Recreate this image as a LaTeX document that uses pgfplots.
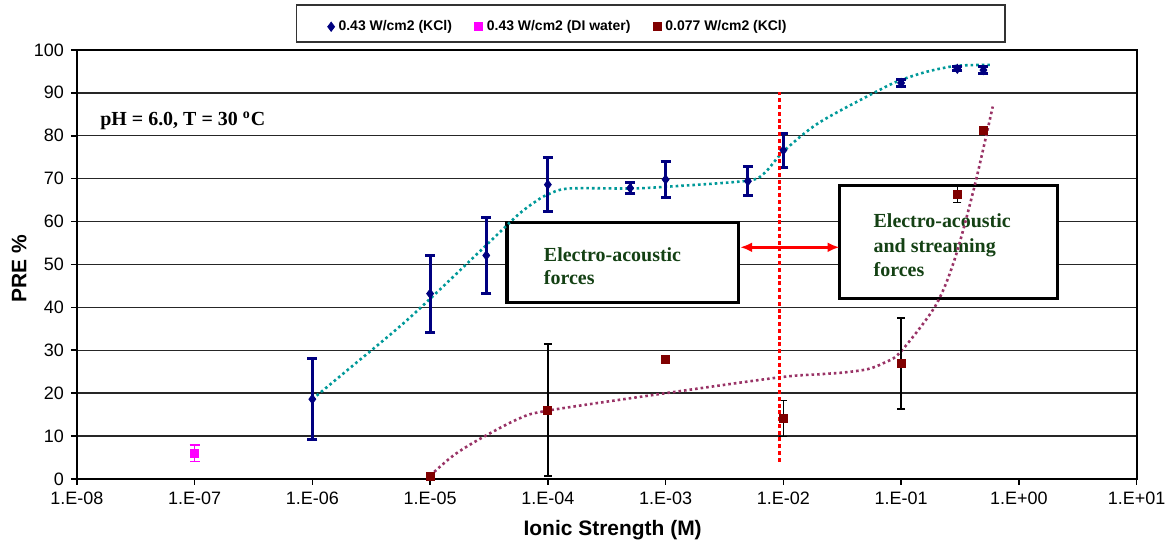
\documentclass[border=0pt]{standalone}
\usepackage{fontspec}
\setmainfont{Liberation Sans}
\newfontfamily\serifbf{Liberation Serif}[BoldFont=Liberation Serif Bold]
\usepackage{pgfplots}
\pgfplotsset{compat=1.18}
\usetikzlibrary{arrows.meta}

\definecolor{kclnavy}{RGB}{0,0,128}
\definecolor{dimag}{RGB}{255,0,255}
\definecolor{lowred}{RGB}{128,0,0}
\definecolor{fitteal}{RGB}{0,153,153}
\definecolor{fitplum}{RGB}{153,51,102}
\definecolor{boxgreen}{RGB}{20,65,20}

\begin{document}
\begin{tikzpicture}
\begin{axis}[
    at={(0,0)}, anchor=south west,
    scale only axis,
    width=531pt, height=215pt,
    xmode=log, xmin=1e-8, xmax=1e1,
    ymin=0, ymax=100,
    xtick={1e-8,1e-7,1e-6,1e-5,1e-4,1e-3,1e-2,1e-1,1,10},
    xticklabels={1.E-08,1.E-07,1.E-06,1.E-05,1.E-04,1.E-03,1.E-02,1.E-01,1.E+00,1.E+01},
    xminorticks=false,
    ytick={0,10,...,100},
    ymajorgrids,
    grid style={black!85, line width=0.7pt},
    axis line style={black, line width=1pt},
    tick align=outside,
    xtick pos=bottom, ytick pos=left,
    major tick length=3pt,
    tick style={black, line width=0.8pt},
    ticklabel style={font=\fontsize{9}{10}\selectfont},
    /pgf/number format/assume math mode=true,
    xlabel={Ionic Strength (M)},
    ylabel={PRE \%},
    xlabel style={font=\bfseries\fontsize{10.5}{12}\selectfont, at={(axis description cs:0.5056,-0.1186)}, anchor=center, inner sep=0pt},
    ylabel style={font=\bfseries\fontsize{10.5}{12}\selectfont, at={(axis description cs:-0.047,0.49)}, anchor=south, inner sep=0pt},
    legend style={draw=none, fill=none, at={(axis description cs:0.2307,1.054)}, anchor=west,
        font=\bfseries\fontsize{7}{8}\selectfont,
        /tikz/every even column/.append style={column sep=9.5pt}},
    legend columns=3,
    legend image code/.code={\draw[mark repeat=2,mark phase=2,#1] plot coordinates {(0pt,0pt) (2pt,0pt) (4pt,0pt)};},
]

% text boxes (under the curves, over the grid)
\draw[line width=1.6pt, fill=white] (axis cs:4.5e-5,41.2) rectangle (axis cs:4.16e-3,59.8);
\draw[line width=1.6pt, fill=white] (axis cs:3.02e-2,42.0) rectangle (axis cs:2.14,68.4);
\node[anchor=base west, align=left, text=boxgreen, font=\serifbf\bfseries\fontsize{10}{11.5}\selectfont, inner sep=0pt]
    at (axis cs:9.2e-5,45.3) {Electro-acoustic\\forces};
\node[anchor=base west, align=left, text=boxgreen, font=\serifbf\bfseries\fontsize{10}{12.2}\selectfont, inner sep=0pt]
    at (axis cs:5.8e-2,47.2) {Electro-acoustic\\and streaming\\forces};
\node[anchor=base west, font=\serifbf\bfseries\fontsize{10}{12}\selectfont, inner sep=0pt]
    at (axis cs:1.57e-8,82.3) {pH = 6.0, T = 30 \textsuperscript{o}C};

% trend lines
\addplot[fitteal, line width=1.3pt, dash pattern=on 1.3pt off 1.5pt, smooth, no marks, forget plot] coordinates {
    (1e-6,18.6) (1.95e-6,25.2) (6.6e-6,37.4) (2.95e-5,54.3) (5.6e-5,61.6) (8.1e-5,64.9)
    (1e-4,66.3) (1.5e-4,67.7) (5e-4,67.7) (1e-3,68.1) (4.9e-3,69.5) (6.9e-3,71.3)
    (1e-2,76.3) (2e-2,83.0) (6.6e-2,90.7) (0.1,93.0) (0.17,95.0) (0.30,96.3) (0.60,96.5)
};
\addplot[fitplum, line width=1.3pt, dash pattern=on 1.3pt off 1.5pt, smooth, no marks, forget plot] coordinates {
    (1e-5,0.8) (1.58e-5,5.5) (2.63e-5,9.3) (5.6e-5,14.0) (9.8e-5,15.9) (1e-3,20.0)
    (9.3e-3,23.7) (2e-2,24.4) (3.2e-2,24.8) (5.2e-2,25.6) (7.2e-2,27.1) (9.8e-2,29.5)
    (0.195,40.3) (0.285,51.2) (0.42,68.2) (0.60,86.8)
};

% 0.43 W/cm2 (KCl)
\addplot[only marks, mark=diamond*, mark size=2.3pt, kclnavy,
    error bars/.cd, y dir=both, y explicit,
    error bar style={line width=1.5pt, kclnavy},
    error mark options={rotate=90, mark size=2.5pt, line width=1.5pt, kclnavy}]
coordinates {
    (1e-6,18.6) +- (0,9.4)
    (1e-5,43.2) +- (0,9.0)
    (3e-5,52.1) +- (0,8.8)
    (1e-4,68.6) +- (0,6.3)
    (5e-4,67.8) +- (0,1.3)
    (1e-3,69.8) +- (0,4.1)
    (5e-3,69.4) +- (0,3.4)
    (1e-2,76.6) +- (0,3.9)
    (0.1,92.3) +- (0,0.8)
    (0.3,95.6) +- (0,0.5)
    (0.5,95.3) +- (0,0.8)
};
\addlegendentry{0.43 W/cm2 (KCl)}

% 0.43 W/cm2 (DI water)
\addplot[only marks, mark=square*, mark size=2pt, dimag,
    error bars/.cd, y dir=both, y explicit,
    error bar style={line width=0.9pt, dimag},
    error mark options={rotate=90, mark size=2.5pt, line width=0.9pt, dimag}]
coordinates {
    (1e-7,6.0) +- (0,1.9)
};
\addlegendentry{0.43 W/cm2 (DI water)}

% 0.077 W/cm2 (KCl)
\addplot[only marks, mark=square*, mark size=2pt, lowred,
    error bars/.cd, y dir=both, y explicit,
    error bar style={line width=0.75pt, black},
    error mark options={rotate=90, mark size=2pt, line width=0.75pt, black}]
coordinates {
    (1e-5,0.6) +- (0,0)
    (1e-4,16.1) +- (0,15.4)
    (1e-3,27.8) +- (0,0.5)
    (1e-2,14.1) +- (0,4.2)
    (0.1,26.9) +- (0,10.6)
    (0.3,66.3) +- (0,1.9)
    (0.5,81.2) +- (0,0)
};
\addlegendentry{0.077 W/cm2 (KCl)}

% red boundary and arrow
\draw[red, line width=1.7pt, dash pattern=on 2pt off 1.4pt] (axis cs:9.25e-3,4.0) -- (axis cs:9.25e-3,90.2);
\draw[red, line width=1.5pt, {Latex[length=6pt,width=5pt]}-{Latex[length=6pt,width=5pt]}]
    (axis cs:4.3e-3,54.0) -- (axis cs:3.0e-2,54.0);
\end{axis}
% legend frame
\draw[black!80, line width=0.6pt] (110pt,219pt) rectangle (465pt,237.5pt);
% page extent
\path (-38.5pt,-33.5pt) rectangle (547.5pt,240pt);
\end{tikzpicture}
\end{document}
